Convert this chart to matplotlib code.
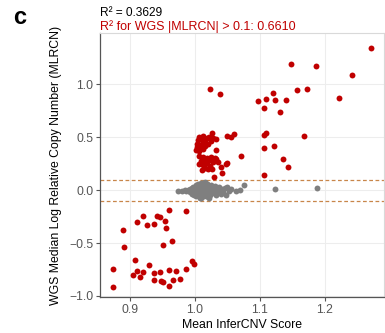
import matplotlib
matplotlib.use("Agg")
import matplotlib.pyplot as plt

plt.rcParams['font.family'] = ['Liberation Sans', 'DejaVu Sans']

# Gray points (|MLRCN| <= 0.1)
gray_x = [0.974, 0.980, 0.984, 0.987, 0.990, 0.992, 0.993, 0.995, 0.996, 0.997,
          0.998, 0.999, 1.000, 1.001, 1.002, 1.003, 1.004, 1.005, 1.005, 1.006,
          1.007, 1.008, 1.009, 1.010, 1.010, 1.011, 1.012, 1.013, 1.014, 1.015,
          1.016, 1.017, 1.018, 1.019, 1.020, 1.021, 1.022, 1.023, 1.024, 1.025,
          1.026, 1.027, 1.028, 1.030, 1.031, 1.032, 1.034, 1.035, 1.037, 1.038,
          1.040, 1.042, 1.044, 1.046, 1.048, 1.050, 1.052, 1.055, 1.064, 1.069,
          1.075, 1.124, 1.188, 1.015, 1.012, 1.018, 1.008, 1.021, 0.995, 1.002]
gray_y = [-0.010, -0.005, 0.000, -0.012, 0.005, -0.020, 0.015, -0.035, 0.000, 0.030,
          -0.050, 0.010, -0.015, 0.045, -0.060, 0.020, -0.030, 0.060, 0.000, -0.045,
          0.035, -0.010, 0.070, -0.070, 0.015, 0.050, -0.025, 0.005, -0.055, 0.040,
          -0.040, 0.020, -0.005, 0.060, -0.065, 0.030, -0.020, 0.010, -0.045, 0.045,
          0.000, -0.030, 0.025, -0.010, 0.040, -0.050, 0.015, -0.020, 0.030, 0.000,
          -0.035, 0.010, -0.015, 0.020, -0.045, 0.025, -0.005, 0.015, -0.007, 0.006,
          0.047, 0.009, 0.022, 0.075, 0.065, 0.055, -0.078, -0.075, 0.020, 0.035]

# Red points (|MLRCN| > 0.1)
red_x = [1.271, 1.148, 1.187, 1.242, 1.121, 1.158, 1.172, 1.097, 1.110, 1.123,
         1.141, 1.222, 1.106, 1.131, 1.107, 1.109, 1.168, 1.106, 1.122, 1.023,
         1.039, 1.071, 1.135, 1.143, 1.107, 1.048, 1.041, 1.040, 1.029, 1.026,
         1.011, 1.032, 1.050, 1.056, 1.060, 1.026,
         1.007, 1.012, 1.018, 1.005, 1.010, 1.015, 1.022, 1.028, 1.032, 1.025,
         1.004, 1.008, 1.013, 1.020, 1.003, 1.009, 1.016, 1.002, 1.006, 1.012,
         1.007, 1.013, 1.019, 1.025, 1.031, 1.033, 1.010, 1.016, 1.022, 1.028,
         1.006, 1.012, 1.018, 1.024, 1.015, 1.035, 1.049, 1.020,
         0.960, 0.987, 0.890, 0.920, 0.911, 0.926, 0.937, 0.942, 0.947, 0.954,
         0.955, 0.891, 0.951, 0.965, 0.874, 0.874, 0.908, 0.929, 0.911, 0.920,
         0.905, 0.916, 0.937, 0.947, 0.960, 0.971, 0.986, 0.995, 0.999, 0.937,
         0.948, 0.951, 0.967, 0.977, 0.960]
red_y = [1.346, 1.189, 1.176, 1.085, 0.915, 0.943, 0.959, 0.842, 0.861, 0.848,
         0.854, 0.867, 0.776, 0.741, 0.520, 0.536, 0.514, 0.400, 0.416, 0.952,
         0.905, 0.322, 0.293, 0.221, 0.142, 0.246, 0.164, 0.215, 0.123, 0.199,
         0.192, 0.378, 0.514, 0.501, 0.533, 0.539,
         0.500, 0.510, 0.490, 0.470, 0.480, 0.470, 0.500, 0.490, 0.480, 0.460,
         0.440, 0.430, 0.450, 0.440, 0.410, 0.400, 0.420, 0.380, 0.370, 0.390,
         0.320, 0.310, 0.300, 0.310, 0.300, 0.290, 0.280, 0.270, 0.285, 0.270,
         0.250, 0.240, 0.255, 0.230, 0.210, 0.270, 0.253, 0.200,
         -0.183, -0.199, -0.381, -0.249, -0.303, -0.328, -0.322, -0.246, -0.258, -0.287,
         -0.356, -0.536, -0.514, -0.483, -0.744, -0.915, -0.662, -0.710, -0.763, -0.773,
         -0.804, -0.820, -0.782, -0.776, -0.757, -0.766, -0.747, -0.672, -0.700, -0.851,
         -0.858, -0.867, -0.845, -0.836, -0.905]

x_ticks = [0.9, 1.0, 1.1, 1.2]
y_ticks = [-1.0, -0.5, 0.0, 0.5, 1.0]
threshold = 0.1
r2_all = "R² = 0.3629"
r2_sub = "R² for WGS |MLRCN| > 0.1: 0.6610"

fig = plt.figure(figsize=(3.85, 3.33), dpi=100)
ax = fig.add_axes([0.26, 0.108, 0.737, 0.793])

ax.scatter(gray_x, gray_y, s=18, color='#7f7f7f', linewidths=0, zorder=3)
ax.scatter(red_x, red_y, s=18, color='#c00000', linewidths=0, zorder=3)

for t in (threshold, -threshold):
    ax.axhline(t, color='#c8864a', lw=0.9, ls=(0, (3, 2)), zorder=2)

ax.set_xlim(0.854, 1.291)
ax.set_ylim(-1.01, 1.485)
ax.set_xticks(x_ticks)
ax.set_yticks(y_ticks)
ax.set_xticklabels([f"{v:.1f}" for v in x_ticks])
ax.set_yticklabels([f"{v:.1f}".replace('-', '\u2212') for v in y_ticks])
ax.grid(True, color='#ededed', lw=0.8, zorder=0)
ax.set_axisbelow(True)

for s in ('top', 'right'):
    ax.spines[s].set_color('#d9d9d9')
    ax.spines[s].set_linewidth(0.8)
for s in ('left', 'bottom'):
    ax.spines[s].set_color('#555555')
    ax.spines[s].set_linewidth(0.9)

ax.tick_params(axis='both', length=3, width=0.8, color='#555555',
               labelsize=8.7, labelcolor='#555555', pad=2)

ax.set_xlabel("Mean InferCNV Score", fontsize=8.8, color='black', labelpad=2)
ax.set_ylabel("WGS Median Log Relative Copy Number (MLRCN)", fontsize=8.8,
              color='black', labelpad=5)

fig.text(0.033, 0.928, 'c', fontsize=17, fontweight='bold', color='black')
fig.text(0.26, 0.953, r2_all, fontsize=8.6, color='black')
fig.text(0.26, 0.91, r2_sub, fontsize=9, color='#c00000')

fig.savefig('out.png', dpi=100)
